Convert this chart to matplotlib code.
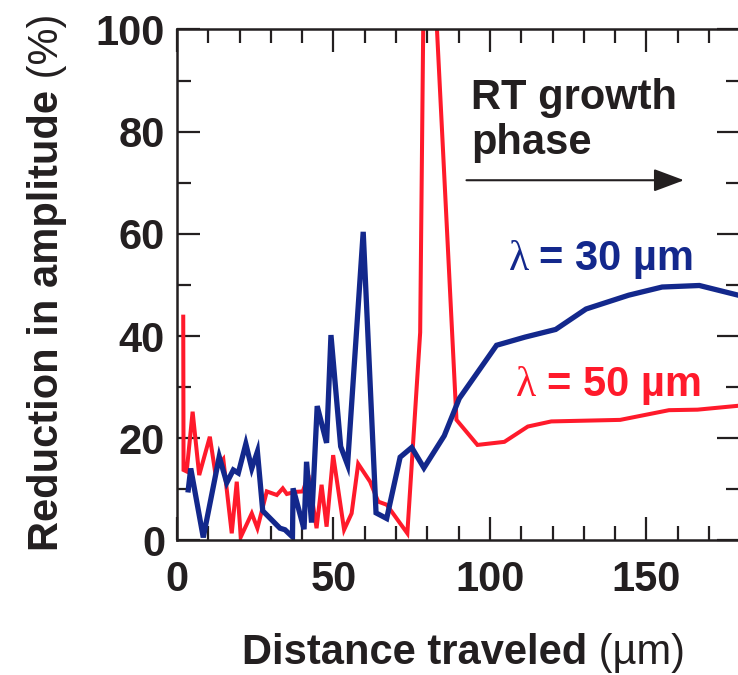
import matplotlib
matplotlib.use('Agg')
import matplotlib.pyplot as plt
from matplotlib.ticker import MultipleLocator

plt.rcParams['font.family'] = ['Liberation Sans', 'DejaVu Sans']

# lambda = 30 um  (distance traveled in um, reduction in amplitude in %)
x_30 = [3.6, 4.4, 8.4, 13.5, 15.9, 18.0, 19.6, 22.0, 23.9, 25.7, 27.4, 32.9, 34.5,
        36.9, 37.1, 40.6, 41.4, 43.0, 44.8, 47.8, 49.2, 52.3, 54.5, 59.5, 63.6, 67.0,
        71.3, 75.0, 78.9, 85.4, 90.2, 102.1, 111.2, 121.0, 130.7, 144.3, 155.0, 166.9, 180.0]
y_30 = [9.9, 14.1, 0.6, 16.4, 11.3, 13.8, 13.2, 18.9, 14.1, 17.4, 5.8, 2.4, 2.1,
        0.7, 10.2, 2.2, 15.4, 3.5, 26.3, 19.1, 40.2, 18.4, 14.8, 60.4, 5.4, 4.3,
        16.3, 18.2, 14.2, 20.5, 27.8, 38.2, 39.8, 41.3, 45.3, 48.0, 49.6, 49.9, 47.9]

# lambda = 50 um
x_50 = [2.0, 2.1, 3.1, 5.0, 7.1, 10.5, 12.1, 14.8, 17.5, 19.1, 20.4, 23.9, 25.7, 28.7,
        31.9, 33.8, 35.1, 37.7, 40.2, 42.0, 44.6, 46.2, 47.8, 49.9, 53.4, 55.8, 57.9,
        61.7, 64.3, 67.0, 73.6, 77.7, 79.4, 89.3, 96.0, 104.6, 112.1, 119.6, 141.6,
        157.2, 166.3, 180.0]
y_50 = [43.8, 13.8, 13.5, 25.2, 12.8, 20.3, 13.8, 15.9, 1.4, 11.5, 0.7, 5.3, 2.4, 9.6,
        8.9, 10.2, 9.1, 9.5, 9.6, 12.8, 2.4, 10.9, 2.7, 16.7, 2.1, 5.3, 15.0,
        11.5, 7.6, 7.0, 1.4, 40.7, 145.0, 23.6, 18.7, 19.3, 22.3, 23.3, 23.6,
        25.5, 25.6, 26.4]

x_ticks = [0, 50, 100, 150]
y_ticks = [0, 20, 40, 60, 80, 100]

blue = '#13288c'
red = '#ff1a2b'
ink = '#231f20'
fs = 30

fig = plt.figure(figsize=(7.38, 6.75), dpi=100)
ax = fig.add_axes([0.2398, 0.1993, 0.7634, 0.7570])

ax.plot(x_50, y_50, color=red, lw=2.9, solid_joinstyle='miter')
ax.plot(x_30, y_30, color=blue, lw=3.8, solid_joinstyle='miter')

ax.set_xlim(0, 180)
ax.set_ylim(0, 100)
ax.set_xticks(x_ticks)
ax.set_yticks(y_ticks)
ax.xaxis.set_minor_locator(MultipleLocator(10))
ax.yaxis.set_minor_locator(MultipleLocator(10))
ax.tick_params(which='both', direction='in', top=True, right=True,
               width=1.6, color=ink, labelsize=fs, labelcolor=ink)
ax.tick_params(which='major', length=16.6)
ax.tick_params(which='minor', length=10)
ax.tick_params(axis='x', pad=14)
ax.tick_params(axis='y', pad=8.6)
for lab in ax.get_xticklabels() + ax.get_yticklabels():
    lab.set_fontweight('bold')
for sp in ax.spines.values():
    sp.set_linewidth(1.8)
    sp.set_color(ink)

# axis titles: bold words, plain-weight units
xl = ax.text(0.1155, -0.2417, 'Distance traveled', transform=ax.transAxes,
             fontsize=fs, fontweight='bold', color=ink, ha='left', va='baseline')
ax.annotate(' (µm)', xy=(1, -0.2417), xycoords=(xl, 'axes fraction'),
            fontsize=fs, color=ink, ha='left', va='baseline', annotation_clip=False)

yl = ax.text(-0.2309, 0.4305, 'Reduction in amplitude', transform=ax.transAxes,
             fontsize=fs, fontweight='bold', color=ink, rotation=90,
             ha='center', va='center')
ax.annotate(' (%)', xy=(0.5, 1), xycoords=yl, fontsize=fs, color=ink,
            rotation=90, ha='center', va='bottom', annotation_clip=False)

# RT growth phase annotation
ax.text(93.9, 84.4, 'RT growth', fontsize=fs, fontweight='bold', color=ink, va='baseline')
ax.text(93.9, 75.6, 'phase', fontsize=fs, fontweight='bold', color=ink, va='baseline')
ax.annotate('', xy=(162.0, 70.5), xytext=(92.5, 70.5),
            arrowprops=dict(arrowstyle='-|>,head_length=0.75,head_width=0.28',
                            lw=1.5, color=ink, shrinkA=0, shrinkB=0, mutation_scale=25))

# wavelength labels
for lx, ly, txt, col in [(106.0, 52.9, '= 30 µm', blue), (108.3, 28.3, '= 50 µm', red)]:
    lam = ax.text(lx, ly, 'λ ', fontsize=fs, family='Liberation Serif', color=col,
                  va='baseline')
    ax.annotate(txt, xy=(1, ly), xycoords=(lam, 'data'), fontsize=fs,
                fontweight='bold', color=col, ha='left', va='baseline')

fig.savefig('out.png', dpi=100)
